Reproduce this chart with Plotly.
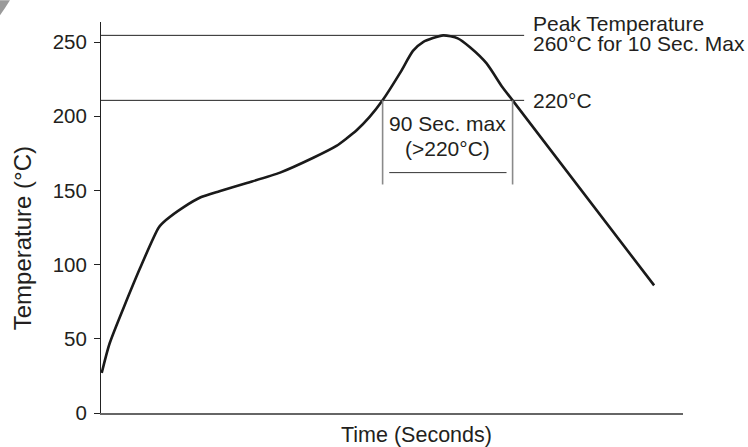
import plotly.graph_objects as go

# Reflow profile (time in seconds, temperature in °C)
time_s = [0.5, 6, 27, 40, 45, 57, 69, 82, 101, 124, 147, 163, 170, 177, 186, 195,
          207, 216, 223, 237, 247, 255.5, 267, 278, 285, 383]
temp_c = [27, 47, 97.5, 125, 130, 138.6, 145.4, 149.5, 155, 162, 172, 180, 185, 190.5, 199.5, 210.7,
          229, 244, 250, 254.5, 252.5, 246.5, 235.6, 219.5, 210.7, 86]

y_ticks = [0, 50, 100, 150, 200, 250]
peak_level = 254.5
liquidus_level = 210.7
window_start, window_end = 195, 285
window_bottom = 154
bracket_level = 162
ref_line_end = 293

FONT = "Liberation Sans, Arial, sans-serif"
TXT = "#231f20"

fig = go.Figure()
fig.add_trace(go.Scatter(x=time_s, y=temp_c, mode="lines",
                         line=dict(color="#1a1a1a", width=2.6, shape="spline", smoothing=0.6),
                         hoverinfo="skip", showlegend=False))

shapes = [
    dict(type="line", xref="x", yref="y", x0=0, x1=ref_line_end, y0=peak_level, y1=peak_level,
         line=dict(color="#222", width=1)),
    dict(type="line", xref="x", yref="y", x0=0, x1=ref_line_end, y0=liquidus_level, y1=liquidus_level,
         line=dict(color="#222", width=1)),
    dict(type="line", xref="x", yref="y", x0=window_start, x1=window_start, y0=liquidus_level, y1=window_bottom,
         line=dict(color="#8a8a8a", width=1.6)),
    dict(type="line", xref="x", yref="y", x0=window_end, x1=window_end, y0=liquidus_level, y1=window_bottom,
         line=dict(color="#8a8a8a", width=1.6)),
    dict(type="line", xref="x", yref="y", x0=window_start + 4.6, x1=window_end - 4.2, y0=bracket_level, y1=bracket_level,
         line=dict(color="#333", width=1)),
    dict(type="path", xref="paper", yref="paper",
         path="M -0.1735,1.0555 L -0.1564,1.0555 Q -0.165,1.035 -0.1735,1.0171 Z",
         fillcolor="#9a9a9a", line=dict(width=0)),
]

annotations = [
    dict(x=297.8, y=262.6, xref="x", yref="y", text="Peak Temperature", showarrow=False,
         xanchor="left", yanchor="middle", font=dict(size=21, color=TXT, family=FONT)),
    dict(x=297.8, y=248.7, xref="x", yref="y", text="260°C for 10 Sec. Max", showarrow=False,
         xanchor="left", yanchor="middle", font=dict(size=21, color=TXT, family=FONT)),
    dict(x=297.8, y=liquidus_level, xref="x", yref="y", text="220°C", showarrow=False,
         xanchor="left", yanchor="middle", font=dict(size=21, color=TXT, family=FONT)),
    dict(x=239.6, y=195.2, xref="x", yref="y", text="90 Sec. max", showarrow=False,
         xanchor="center", yanchor="middle", font=dict(size=21, color=TXT, family=FONT)),
    dict(x=239.6, y=178.4, xref="x", yref="y", text="(>220°C)", showarrow=False,
         xanchor="center", yanchor="middle", font=dict(size=21, color=TXT, family=FONT)),
    dict(x=(416 - 101) / 582, y=(412.7 - 435) / 391, xref="paper", yref="paper", text="Time (Seconds)",
         showarrow=False, xanchor="center", yanchor="middle", font=dict(size=21.5, color=TXT, family=FONT)),
    dict(x=(22 - 101) / 582, y=(412.7 - 238) / 391, xref="paper", yref="paper", text="Temperature (°C)",
         showarrow=False, xanchor="center", yanchor="middle", textangle=-90,
         font=dict(size=24, color=TXT, family=FONT)),
]

fig.update_layout(
    width=748, height=447,
    margin=dict(l=101, r=65, t=21.7, b=34.3),
    paper_bgcolor="white", plot_bgcolor="white",
    shapes=shapes, annotations=annotations,
    xaxis=dict(range=[0, 403], showgrid=False, zeroline=False, showticklabels=False, ticks="",
               showline=True, linecolor="#666", linewidth=1.6, fixedrange=True),
    yaxis=dict(range=[0, 263.5], tickvals=y_ticks, ticktext=[str(v) for v in y_ticks],
               showgrid=False, zeroline=False, ticks="outside", ticklen=6, tickcolor="#222",
               showline=True, linecolor="#222", linewidth=1, ticklabelstandoff=3,
               tickfont=dict(size=20.5, color=TXT, family=FONT), fixedrange=True),
    font=dict(family=FONT, color=TXT),
)

fig.write_html("out.html", config={"displayModeBar": False},
               post_script="document.body.style.margin='0';document.body.style.padding='0';")
